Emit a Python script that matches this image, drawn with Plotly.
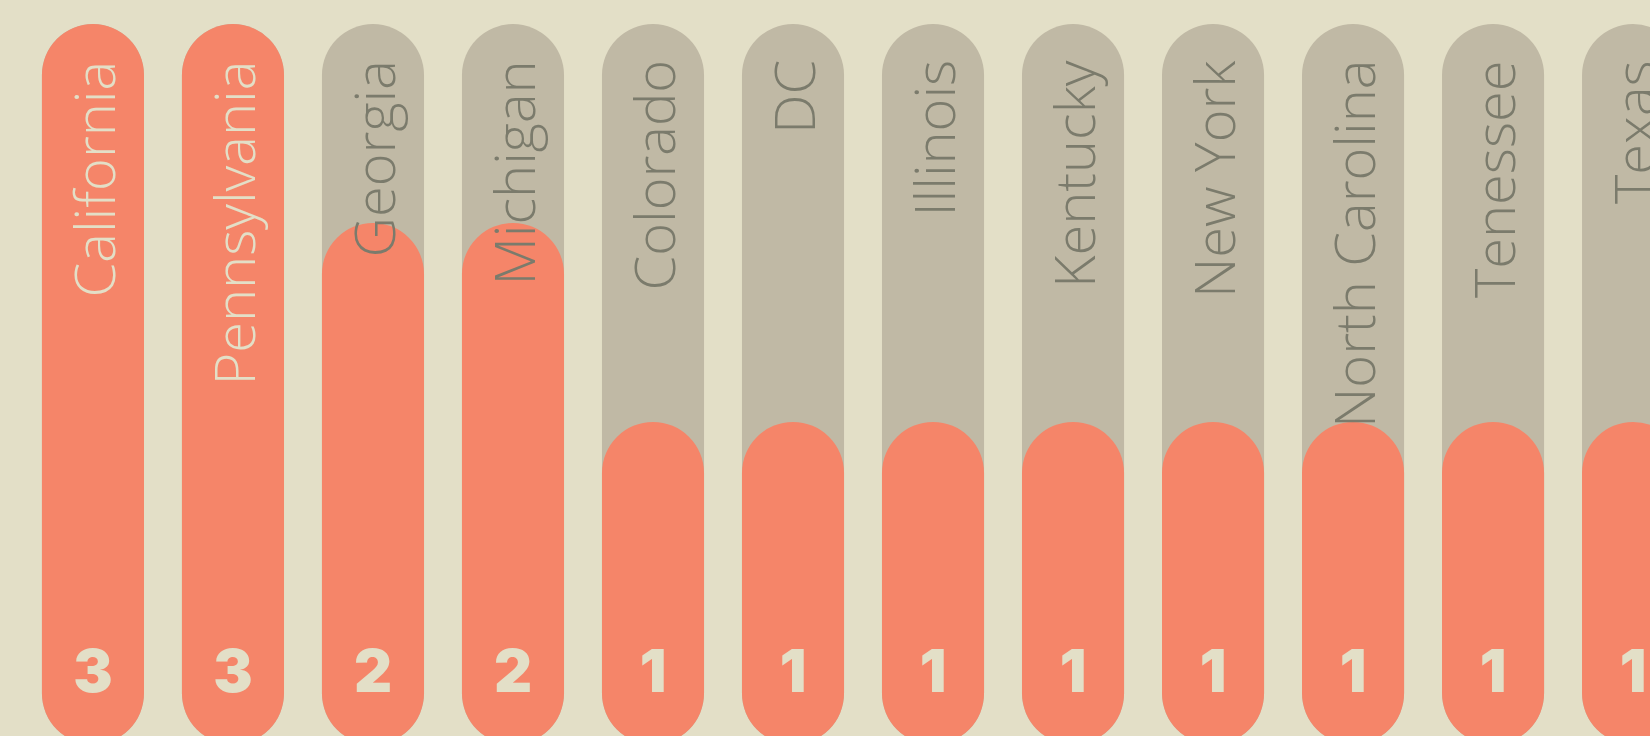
import plotly.graph_objects as go

states = ["California", "Pennsylvania", "Georgia", "Michigan", "Colorado", "DC",
          "Illinois", "Kentucky", "New York", "North Carolina", "Tenessee", "Texas"]
counts = [3, 3, 2, 2, 1, 1, 1, 1, 1, 1, 1, 1]
max_count = max(counts)
n = len(states)

BG = "#E3DFC7"
GREY = "#C0B9A5"
SALMON = "#F58569"
TEXT_GREY = "#7B7B6C"

bottom_level = -0.62
bar_w = 0.729
radius = 51

fig = go.Figure()
# grey track bars (full height)
fig.add_bar(x=states, y=[max_count - bottom_level] * n, base=bottom_level, width=bar_w,
            marker=dict(color=GREY, cornerradius=radius, line=dict(width=0)),
            hoverinfo="skip")
# salmon value bars
fig.add_bar(x=states, y=[c - bottom_level for c in counts], base=bottom_level, width=bar_w,
            marker=dict(color=SALMON, cornerradius=radius, line=dict(width=0)),
            hoverinfo="skip")
# value numbers
fig.add_scatter(x=states, y=[-0.285] * n, mode="text",
                text=[str(c) for c in counts],
                textfont=dict(family="Inter, Roboto, sans-serif", size=59,
                              weight=900, color=BG),
                hoverinfo="skip", cliponaxis=False)

for s, c in zip(states, counts):
    fig.add_annotation(x=s, y=2.829, xref="x", yref="y", text=s,
                       showarrow=False, textangle=-90,
                       xanchor="center", yanchor="top",
                       font=dict(family="Open Sans, Lato, sans-serif", size=56,
                                 weight=300,
                                 color=BG if c == max_count else TEXT_GREY))

fig.update_layout(
    width=1650, height=736,
    margin=dict(l=0, r=0, t=0, b=0),
    paper_bgcolor=BG, plot_bgcolor=BG,
    barmode="overlay", showlegend=False,
    xaxis=dict(visible=False, range=[-0.664, 11.121], fixedrange=True),
    yaxis=dict(visible=False, range=[-0.578, 3.1206], fixedrange=True),
)

fig.write_html("out.html", config={"displayModeBar": False},
               post_script="document.body.style.margin='0';document.body.style.overflow='hidden';")
